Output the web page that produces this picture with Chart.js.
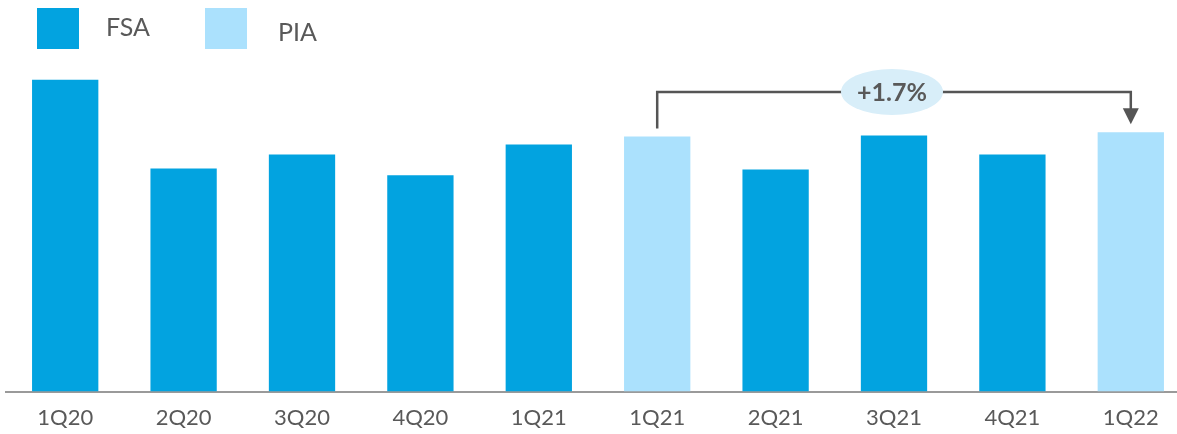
<!DOCTYPE html>
<html>
<head>
    <meta charset="utf-8">
    <title>FSA / PIA quarterly</title>
    <script src="https://cdn.jsdelivr.net/npm/chart.js"></script>
    <style>
      body { margin: 0; background: #fff; }
      #wrap { width: 1177px; height: 434px; overflow: hidden; }
    </style>
</head>
<body>
<div id="wrap">
    <canvas id="quarterChart" width="1190" height="446"></canvas>
</div>

<script>
    // Quarter labels along the x axis
    const quarters = ['1Q20', '2Q20', '3Q20', '4Q20', '1Q21', '1Q21', '2Q21', '3Q21', '4Q21', '1Q22'];
    // FSA bars (null where the quarter is a PIA bar)
    const fsaValues = [122.3, 87.5, 93.0, 84.8, 96.9, null, 87.1, 100.4, 93.0, null];
    // PIA bars
    const piaValues = [null, null, null, null, null, 100.0, null, null, null, 101.7];
    // Growth bracket: from index -> to index, with its label
    const growthFrom = 5;
    const growthTo = 9;
    const growthLabel = '+1.7%';

    const FSA_COLOR = '#02a3e0';
    const PIA_COLOR = '#abe1fd';
    const TEXT_COLOR = '#595959';
    const FONT = 'Lato, "Noto Sans", sans-serif';

    // Square legend along the top edge
    const topLegend = {
      id: 'topLegend',
      afterDraw(chart) {
        const ctx = chart.ctx;
        const items = [
          { ds: chart.data.datasets[0], box: 37, text: 106, mid: 28 },
          { ds: chart.data.datasets[1], box: 205, text: 278, mid: 33 }
        ];
        ctx.save();
        ctx.font = '25px ' + FONT;
        ctx.textBaseline = 'middle';
        items.forEach(it => {
          ctx.fillStyle = it.ds.backgroundColor;
          ctx.fillRect(it.box, 8, 42, 41);
          ctx.fillStyle = TEXT_COLOR;
          ctx.fillText(it.ds.label, it.text, it.mid);
        });
        ctx.restore();
      }
    };

    // Bracket with arrow and oval label between two bars
    const growthBracket = {
      id: 'growthBracket',
      afterDatasetsDraw(chart) {
        const ctx = chart.ctx;
        const x = chart.scales.x, y = chart.scales.y;
        const x0 = x.getPixelForValue(growthFrom);
        const x1 = x.getPixelForValue(growthTo);
        const y0 = y.getPixelForValue(piaValues[growthFrom]) - 8;
        const y1 = y.getPixelForValue(piaValues[growthTo]) - 8;
        const top = y.getPixelForValue(117.5);
        ctx.save();
        ctx.strokeStyle = '#555';
        ctx.fillStyle = '#555';
        ctx.lineWidth = 2.5;
        ctx.beginPath();
        ctx.moveTo(x0, y0);
        ctx.lineTo(x0, top);
        ctx.lineTo(x1, top);
        ctx.lineTo(x1, y1 - 14);
        ctx.stroke();
        ctx.beginPath();
        ctx.moveTo(x1 - 8, y1 - 16);
        ctx.lineTo(x1 + 8, y1 - 16);
        ctx.lineTo(x1, y1);
        ctx.closePath();
        ctx.fill();

        const cx = (x0 + x1) / 2 - 2;
        ctx.fillStyle = '#d8eef9';
        ctx.beginPath();
        ctx.ellipse(cx, top, 51, 23, 0, 0, Math.PI * 2);
        ctx.fill();
        ctx.fillStyle = TEXT_COLOR;
        ctx.font = 'bold 25px ' + FONT;
        ctx.textAlign = 'center';
        ctx.textBaseline = 'middle';
        ctx.fillText(growthLabel, cx, top + 1);
        ctx.restore();
      }
    };

    const ctx = document.getElementById('quarterChart').getContext('2d');
    const chart = new Chart(ctx, {
      type: 'bar',
      data: {
        labels: quarters,
        datasets: [
          { label: 'FSA', data: fsaValues, backgroundColor: FSA_COLOR },
          { label: 'PIA', data: piaValues, backgroundColor: PIA_COLOR }
        ]
      },
      options: {
        responsive: false,
        animation: false,
        grouped: false,
        categoryPercentage: 1,
        barPercentage: 0.56,
        layout: { padding: { top: 60, left: 6, right: 0, bottom: 2 } },
        plugins: {
          legend: { display: false },
          tooltip: { enabled: false }
        },
        scales: {
          x: {
            grid: { display: false, drawTicks: false },
            border: { color: '#9a9a9a', width: 2 },
            ticks: {
              color: TEXT_COLOR,
              font: { family: FONT, size: 22 },
              padding: 13,
              maxRotation: 0
            }
          },
          y: {
            display: false,
            min: 0,
            max: 130
          }
        }
      },
      plugins: [topLegend, growthBracket]
    });
</script>
</body>
</html>
